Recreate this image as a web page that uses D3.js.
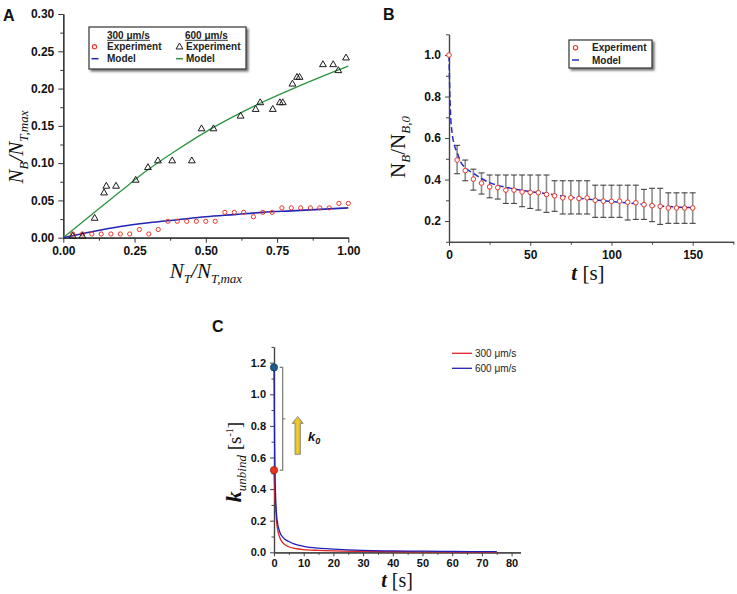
<!DOCTYPE html>
<html><head><meta charset="utf-8">
<script src="https://cdn.jsdelivr.net/npm/d3@7"></script>
<style>body{margin:0;background:#fff}</style>
</head><body>
<svg id="c" width="737" height="594"></svg>
<script>
// ---------- DATA ----------
// Panel A
const expX300 = [0.033,0.067,0.100,0.133,0.167,0.200,0.233,0.267,0.300,0.333,0.367,0.400,0.433,0.467,0.500,0.533,0.567,0.600,0.633,0.667,0.700,0.733,0.767,0.800,0.833,0.867,0.900,0.933,0.967,1.000];
const expY300 = [0.005,0.005,0.005,0.005,0.005,0.005,0.005,0.011,0.005,0.011,0.022,0.022,0.022,0.022,0.022,0.022,0.034,0.034,0.034,0.028,0.034,0.034,0.040,0.040,0.040,0.040,0.040,0.040,0.046,0.046];
const expX600 = [0.033,0.067,0.110,0.143,0.151,0.185,0.254,0.297,0.332,0.382,0.451,0.485,0.527,0.622,0.675,0.691,0.735,0.760,0.770,0.804,0.820,0.829,0.911,0.947,0.965,0.992];
const expY600 = [0.002,0.002,0.026,0.060,0.069,0.069,0.077,0.094,0.103,0.103,0.103,0.146,0.146,0.163,0.172,0.181,0.172,0.181,0.181,0.206,0.215,0.215,0.232,0.232,0.224,0.241];
const modelAX = [0,0.1,0.2,0.3,0.4,0.5,0.6,0.7,0.8,0.9,1.0];
const model300 = [0,0.008,0.015,0.020,0.024,0.028,0.031,0.034,0.036,0.038,0.040];
const model600 = [0,0.031,0.062,0.092,0.118,0.142,0.163,0.182,0.199,0.215,0.230];
const aYTicks = [0,0.05,0.10,0.15,0.20,0.25,0.30];
const aXTicks = [0,0.25,0.50,0.75,1.00];

// Panel B
const tB = [0,5,10,15,20,25,30,35,40,45,50,55,60,65,70,75,80,85,90,95,100,105,110,115,120,125,130,135,140,145,150];
const expB = [1.000,0.494,0.443,0.402,0.383,0.365,0.361,0.349,0.349,0.340,0.338,0.337,0.328,0.322,0.312,0.312,0.309,0.312,0.300,0.296,0.295,0.296,0.291,0.288,0.279,0.274,0.271,0.263,0.263,0.263,0.263];
const errHiB = [null,0.565,0.494,0.450,0.432,0.422,0.422,0.422,0.422,0.422,0.422,0.422,0.422,0.394,0.394,0.394,0.394,0.394,0.373,0.373,0.373,0.373,0.373,0.373,0.353,0.358,0.358,0.336,0.336,0.336,0.336];
const errLoB = [null,0.428,0.394,0.349,0.330,0.312,0.306,0.285,0.285,0.269,0.261,0.253,0.242,0.247,0.234,0.234,0.234,0.234,0.218,0.218,0.218,0.218,0.205,0.208,0.208,0.197,0.184,0.189,0.189,0.189,0.189];
const modelBt = [0,0.5,1,2,3,5,7.5,10,15,20,25,30,40,50,60,75,90,100,110,125,140,150];
const modelBy = [1.0,0.82,0.71,0.62,0.575,0.53,0.48,0.457,0.43,0.405,0.385,0.372,0.355,0.342,0.332,0.315,0.302,0.294,0.287,0.275,0.268,0.265];
const bYTicks = [0.2,0.4,0.6,0.8,1.0];
const bXTicks = [0,50,100,150];

// Panel C
const cT = [0,0.2,0.5,1,2,3,5,7,10,15,20,30,40,50,60,75];
const k300 = [0.52,0.40,0.30,0.17,0.09,0.06,0.035,0.025,0.017,0.012,0.009,0.006,0.004,0.003,0.002,0.002];
const k600 = [1.17,0.70,0.38,0.21,0.125,0.095,0.068,0.052,0.038,0.026,0.020,0.012,0.009,0.007,0.005,0.004];
const k0Values = [0.52,1.17];
const cYTicks = [0,0.2,0.4,0.6,0.8,1.0,1.2];
const cXTicks = [0,10,20,30,40,50,60,70,80];

// ---------- DRAW ----------
const svg = d3.select("#c");
const SANS = "'Liberation Sans', Arial, Helvetica, sans-serif";
const SERIF = "'Liberation Serif', 'Times New Roman', serif";
svg.append("rect").attr("width",737).attr("height",594).attr("fill","#fff");

const defs = svg.append("defs");
const f = defs.append("filter").attr("id","sh").attr("x","-10%").attr("y","-20%").attr("width","130%").attr("height","160%");
f.append("feDropShadow").attr("dx",2).attr("dy",2).attr("stdDeviation",1.3).attr("flood-color","#000").attr("flood-opacity",0.55);

function styleAxis(g, fs, col){
  g.selectAll("path.domain").attr("stroke",col).attr("stroke-width",1.2);
  g.selectAll(".tick line").attr("stroke",col).attr("stroke-width",1);
  g.selectAll("text").attr("font-family",SANS).attr("font-weight","bold").attr("font-size",fs).attr("fill","#111");
}
function axes(x, y, o){
  const gy = svg.append("g").attr("transform",`translate(${x.range()[0]},0)`);
  gy.call(d3.axisLeft(y).tickValues(o.yMajor).tickSize(o.major).tickPadding(o.padY).tickFormat(o.fy).tickSizeOuter(0));
  const gyMinor = svg.append("g").attr("transform",`translate(${x.range()[0]},0)`)
    .call(d3.axisLeft(y).tickValues(o.yMinor).tickSize(o.minor).tickFormat("").tickSizeOuter(0));
  styleAxis(gy,o.fs,o.col); styleAxis(gyMinor,o.fs,o.col);
  const gx = svg.append("g").attr("transform",`translate(0,${y.range()[0]})`)
    .call(d3.axisBottom(x).tickValues(o.xMajor).tickSize(o.major).tickPadding(o.padX).tickFormat(o.fx).tickSizeOuter(0));
  const gxMinor = svg.append("g").attr("transform",`translate(0,${y.range()[0]})`)
    .call(d3.axisBottom(x).tickValues(o.xMinor).tickSize(o.minor).tickFormat("").tickSizeOuter(0));
  styleAxis(gx,o.fs,o.col); styleAxis(gxMinor,o.fs,o.col);
}
function rich(x, y, parts, o={}){
  const t = svg.append("text").attr("x",x).attr("y",y).attr("text-anchor",o.anchor||"middle").attr("fill","#111");
  if(o.rotate) t.attr("transform",`rotate(${o.rotate},${x},${y})`);
  let cur = 0;
  parts.forEach(p=>{
    const s = t.append("tspan").text(p.t).attr("font-size",p.size).attr("font-family",p.family||SERIF)
      .attr("font-style",p.style||"normal").attr("font-weight",p.weight||"normal");
    const shift = (p.shift||0) - cur; cur = p.shift||0;
    if(shift) s.attr("dy",shift);
  });
  return t;
}
function label(x,y,s){ svg.append("text").attr("x",x).attr("y",y).text(s).attr("font-family",SANS).attr("font-weight","bold").attr("font-size",16).attr("fill","#111"); }

// ===== Panel A =====
const xA = d3.scaleLinear().domain([0,1]).range([63.3,348.3]);
const yA = d3.scaleLinear().domain([0,0.30]).range([237.7,14]);
axes(xA,yA,{yMajor:aYTicks,yMinor:[0.025,0.075,0.125,0.175,0.225,0.275],xMajor:aXTicks,xMinor:[0.125,0.375,0.625,0.875],
  major:5,minor:3,padY:4,padX:4,fy:d3.format(".2f"),fx:d3.format(".2f"),fs:12,col:"#333"});
const lineA = (ys)=> d3.line().x((d,i)=>xA(modelAX[i])).y(d=>yA(d)).curve(d3.curveMonotoneX)(ys);
svg.append("path").attr("d",lineA(model600)).attr("fill","none").attr("stroke","#2b9440").attr("stroke-width",1.3);
svg.append("path").attr("d",lineA(model300)).attr("fill","none").attr("stroke","#2424b4").attr("stroke-width",1.6);
svg.append("g").selectAll("circle").data(expY300).join("circle")
  .attr("cx",(d,i)=>xA(expX300[i])).attr("cy",d=>yA(d)).attr("r",2.1)
  .attr("fill","none").attr("stroke","#e8362a").attr("stroke-width",1);
const tri = d3.symbol(d3.symbolTriangle, 20);
svg.append("g").selectAll("path").data(expY600).join("path")
  .attr("transform",(d,i)=>`translate(${xA(expX600[i])},${yA(d)})`).attr("d",tri)
  .attr("fill","none").attr("stroke","#1a1a1a").attr("stroke-width",1);
// legend A
svg.append("rect").attr("x",89).attr("y",27).attr("width",157).attr("height",42).attr("fill","#fff")
  .attr("stroke","#333").attr("stroke-width",1.2).attr("filter","url(#sh)");
const legA = svg.append("g").attr("font-family",SANS).attr("font-weight","bold").attr("font-size",10).attr("fill","#222");
legA.append("text").attr("x",107).attr("y",38.6).text("300 μm/s");
legA.append("text").attr("x",185).attr("y",38.6).text("600 μm/s");
legA.append("line").attr("x1",107).attr("x2",150).attr("y1",40.3).attr("y2",40.3).attr("stroke","#222").attr("stroke-width",0.9);
legA.append("line").attr("x1",185).attr("x2",228).attr("y1",40.3).attr("y2",40.3).attr("stroke","#222").attr("stroke-width",0.9);
legA.append("text").attr("x",107).attr("y",50.3).text("Experiment");
legA.append("text").attr("x",186).attr("y",50.3).text("Experiment");
legA.append("text").attr("x",107).attr("y",62.3).text("Model");
legA.append("text").attr("x",186).attr("y",62.3).text("Model");
legA.append("circle").attr("cx",94.5).attr("cy",46.7).attr("r",2.1).attr("fill","none").attr("stroke","#e8362a").attr("stroke-width",1.1);
legA.append("path").attr("transform","translate(179.5,47)").attr("d",tri).attr("fill","none").attr("stroke","#1a1a1a").attr("stroke-width",1);
legA.append("line").attr("x1",91.5).attr("x2",98.5).attr("y1",58.7).attr("y2",58.7).attr("stroke","#2424b4").attr("stroke-width",1.5);
legA.append("line").attr("x1",176).attr("x2",183).attr("y1",58.7).attr("y2",58.7).attr("stroke","#2b9440").attr("stroke-width",1.5);
// titles A
rich(23,147,[{t:"N",size:21,style:"italic"},{t:"B",size:13,style:"italic",shift:5},{t:"/",size:21,style:"italic",shift:0},
  {t:"N",size:21,style:"italic"},{t:"T,max",size:13,style:"italic",shift:5}],{rotate:-90});
rich(206,278,[{t:"N",size:21,style:"italic"},{t:"T",size:13,style:"italic",shift:5},{t:"/",size:21,style:"italic",shift:0},
  {t:"N",size:21,style:"italic"},{t:"T,max",size:13,style:"italic",shift:5}]);
label(3,21,"A");

// ===== Panel B =====
const xB = d3.scaleLinear().domain([0,175]).range([449,733.3]);
const yB = d3.scaleLinear().domain([0.1,1.1]).range([241.8,34.3]);
axes(xB,yB,{yMajor:bYTicks,yMinor:[0.1,0.3,0.5,0.7,0.9,1.1],xMajor:bXTicks,xMinor:[25,75,125,175],
  major:4,minor:3,padY:4,padX:5,fy:d3.format(".1f"),fx:d3.format("d"),fs:12,col:"#444"});
const eb = svg.append("g");
tB.forEach((t,i)=>{
  if(errHiB[i]==null) return;
  const x = xB(t);
  eb.append("line").attr("x1",x).attr("x2",x).attr("y1",yB(errHiB[i])).attr("y2",yB(errLoB[i])).attr("stroke","#8c8c8c").attr("stroke-width",1.6);
  [errHiB[i],errLoB[i]].forEach(v=>eb.append("line").attr("x1",x-3).attr("x2",x+3).attr("y1",yB(v)).attr("y2",yB(v)).attr("stroke","#333").attr("stroke-width",1));
});
svg.append("path").attr("d",d3.line().x((d,i)=>xB(modelBt[i])).y(d=>yB(d)).curve(d3.curveMonotoneX)(modelBy))
  .attr("fill","none").attr("stroke","#2a2ac8").attr("stroke-width",1.5).attr("stroke-dasharray","6,3");
svg.append("g").selectAll("circle").data(expB).join("circle")
  .attr("cx",(d,i)=>xB(tB[i])).attr("cy",d=>yB(d)).attr("r",2.3)
  .attr("fill","#fff").attr("stroke","#e8362a").attr("stroke-width",1);
// legend B
svg.append("rect").attr("x",569).attr("y",40).attr("width",83).attr("height",28).attr("fill","#fff")
  .attr("stroke","#333").attr("stroke-width",1.2).attr("filter","url(#sh)");
const legB = svg.append("g").attr("font-family",SANS).attr("font-weight","bold").attr("font-size",10).attr("fill","#222");
legB.append("circle").attr("cx",575.5).attr("cy",47.7).attr("r",2.2).attr("fill","#fff").attr("stroke","#e8362a").attr("stroke-width",1.1);
legB.append("text").attr("x",592).attr("y",51.3).text("Experiment");
legB.append("line").attr("x1",572).attr("x2",579).attr("y1",60).attr("y2",60).attr("stroke","#2a2ac8").attr("stroke-width",1.5);
legB.append("text").attr("x",592).attr("y",63.6).text("Model");
rich(405,147,[{t:"N",size:21},{t:"B",size:13,style:"italic",shift:5},{t:"/",size:21,shift:0},
  {t:"N",size:21},{t:"B,0",size:13,style:"italic",shift:5}],{rotate:-90});
rich(588,280,[{t:"t",size:21,style:"italic",weight:"bold"},{t:" [s]",size:21}]);
label(383,20,"B");

// ===== Panel C =====
const xC = d3.scaleLinear().domain([0,83]).range([274,520.5]);
const yC = d3.scaleLinear().domain([0,1.3]).range([552.3,346.9]);
axes(xC,yC,{yMajor:cYTicks,yMinor:[0.1,0.3,0.5,0.7,0.9,1.1,1.3],
  xMajor:cXTicks,xMinor:[5,15,25,35,45,55,65,75],
  major:4,minor:2.5,padY:4,padX:3,fy:d3.format(".1f"),fx:d3.format("d"),fs:11,col:"#444"});
const lineC = d3.line().x((d,i)=>xC(cT[i])).y(d=>yC(d)).curve(d3.curveMonotoneX);
svg.append("path").attr("d",lineC(k300)).attr("fill","none").attr("stroke","#e02424").attr("stroke-width",1.3);
svg.append("path").attr("d",lineC(k600)).attr("fill","none").attr("stroke","#2020b8").attr("stroke-width",1.3);
// bracket
const bx = 282.7, yTop = yC(k0Values[1]), yBot = yC(k0Values[0]);
svg.append("path").attr("d",`M${bx-3},${yTop}H${bx}V${yBot}H${bx-3}M${bx},${(yTop+yBot)/2}h2.5`)
  .attr("fill","none").attr("stroke","#7a7a7a").attr("stroke-width",1.2);
// yellow arrow
const ax = 297.7, ay0 = yC(0.62), ay1 = yC(0.86);
const grad = defs.append("linearGradient").attr("id","gold").attr("x1","0").attr("x2","1");
grad.append("stop").attr("offset","0").attr("stop-color","#c9a414");
grad.append("stop").attr("offset","0.5").attr("stop-color","#f0cf2e");
grad.append("stop").attr("offset","1").attr("stop-color","#c29a10");
svg.append("path").attr("d",`M${ax-2.7},${ay0}V${ay1+7}H${ax-5.5}L${ax},${ay1}L${ax+5.5},${ay1+7}H${ax+2.7}V${ay0}Z`)
  .attr("fill","url(#gold)").attr("stroke","#8a8a80").attr("stroke-width",0.9);
rich(308,441,[{t:"k",size:13,family:SANS,style:"italic",weight:"bold"},{t:"0",size:9,family:SANS,style:"italic",weight:"bold",shift:3}],{anchor:"start"});
// dots
svg.append("circle").attr("cx",xC(0)).attr("cy",yC(k0Values[1])).attr("r",3.6).attr("fill","#1c5c8e").attr("stroke","#123a5c").attr("stroke-width",0.8);
svg.append("circle").attr("cx",xC(0)).attr("cy",yC(k0Values[0])).attr("r",3.6).attr("fill","#ea3322").attr("stroke","#a02010").attr("stroke-width",0.8);
// legend C
const legC = svg.append("g").attr("font-family",SANS).attr("font-size",10).attr("fill","#222");
legC.append("line").attr("x1",452).attr("x2",472).attr("y1",353.3).attr("y2",353.3).attr("stroke","#e02424").attr("stroke-width",1.3);
legC.append("text").attr("x",475).attr("y",357).text("300 μm/s");
legC.append("line").attr("x1",452).attr("x2",472).attr("y1",368.3).attr("y2",368.3).attr("stroke","#2020b8").attr("stroke-width",1.3);
legC.append("text").attr("x",475).attr("y",372).text("600 μm/s");
rich(241,462,[{t:"k",size:22,style:"italic",weight:"bold"},{t:"unbind",size:13,style:"italic",shift:5},
  {t:" [s",size:19,shift:0},{t:"-1",size:10,shift:-8},{t:"]",size:19,shift:0}],{rotate:-90});
rich(397,587,[{t:"t",size:20,style:"italic",weight:"bold"},{t:" [s]",size:20}]);
label(212,332,"C");
</script>
</body></html>
